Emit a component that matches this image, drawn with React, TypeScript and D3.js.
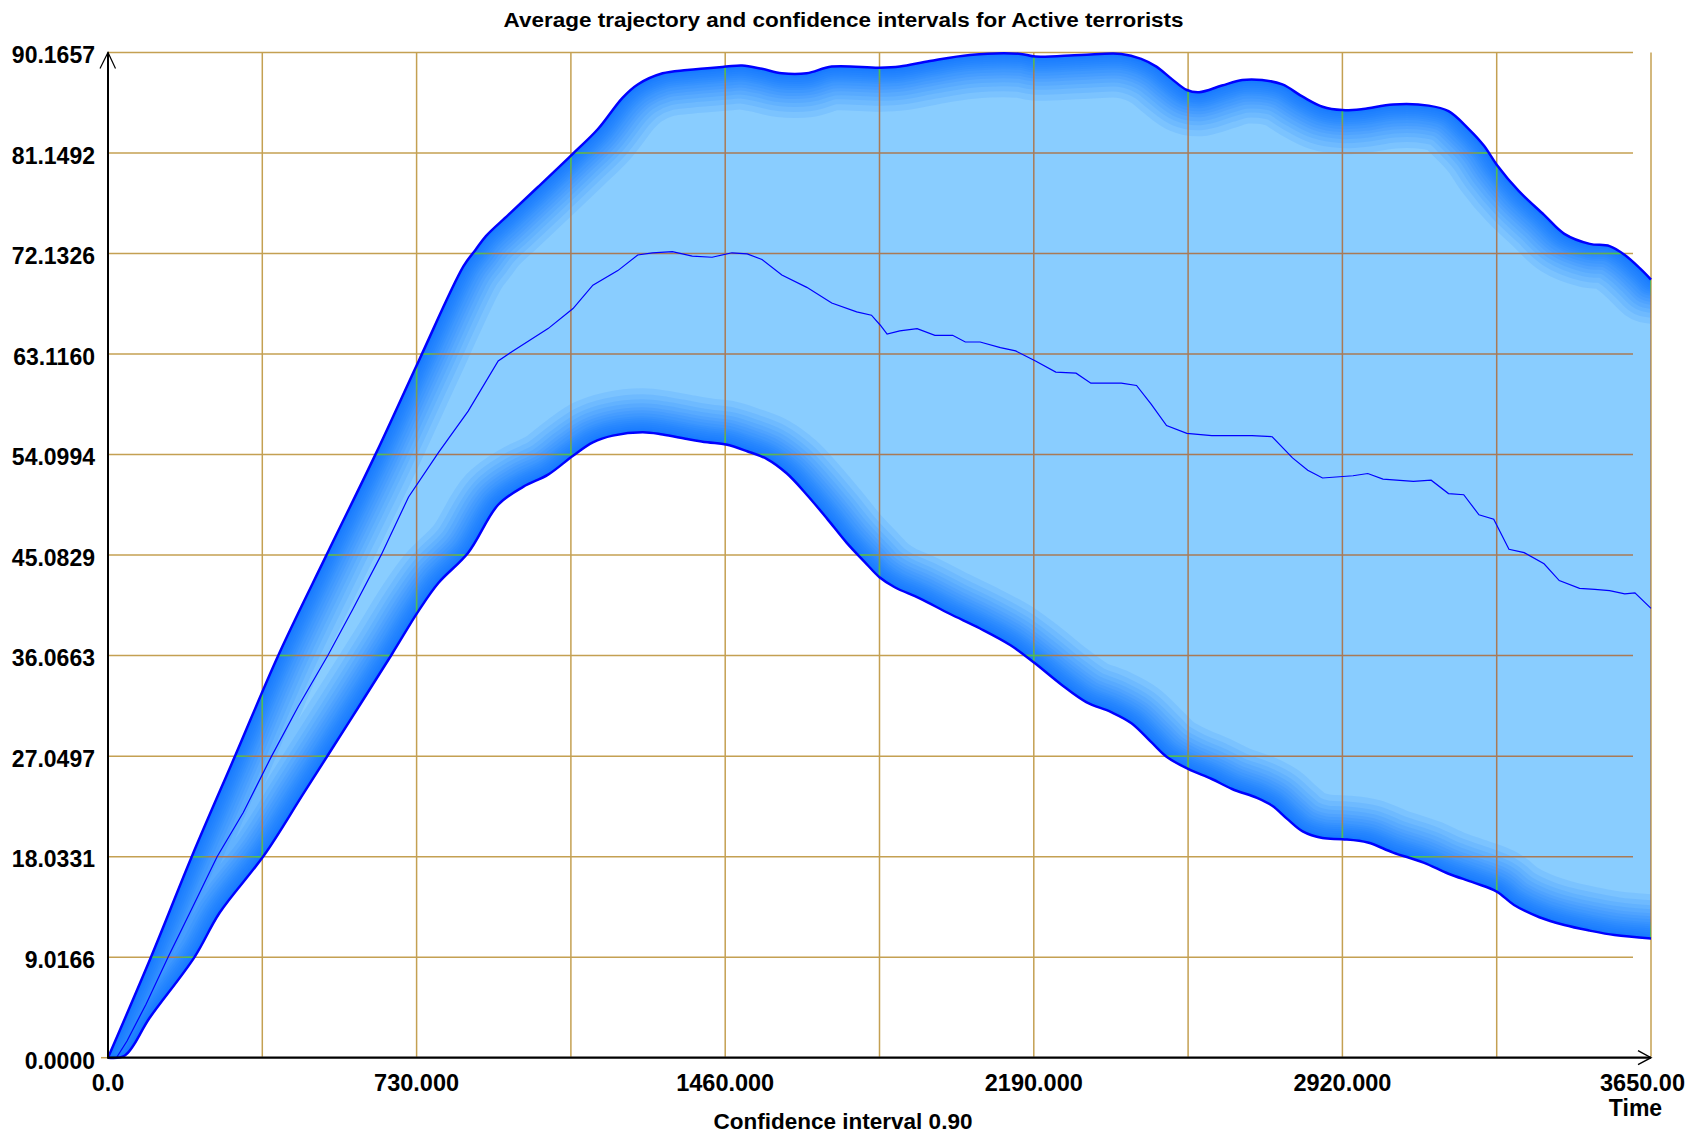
import React from "react";
import * as d3 from "d3";

// ---- tick labels ----
const timeTicks = [0, 730, 1460, 2190, 2920, 3650];
const timeTickLabels = ["0.0", "730.000", "1460.000", "2190.000", "2920.000", "3650.00"];
const timeGrid = [365, 730, 1095, 1460, 1825, 2190, 2555, 2920, 3285, 3650];
const valueTicks = [0, 9.0166, 18.0331, 27.0497, 36.0663, 45.0829, 54.0994, 63.116, 72.1326, 81.1492, 90.1657];
const valueTickLabels = ["0.0000", "9.0166", "18.0331", "27.0497", "36.0663", "45.0829", "54.0994", "63.1160", "72.1326", "81.1492", "90.1657"];

// ---- upper confidence bound ----
const upperTime = [0, 102, 200, 301, 403, 517, 635, 735, 841, 870, 894, 947, 1017, 1100, 1159, 1217, 1253, 1312, 1370, 1462, 1500, 1547, 1594, 1653, 1712, 1825, 1873, 1944, 2039, 2159, 2194, 2302, 2397, 2444, 2480, 2516, 2552, 2581, 2635, 2683, 2730, 2778, 2826, 2873, 2920, 2969, 3040, 3124, 3171, 3219, 3255, 3285, 3337, 3397, 3445, 3505, 3552, 3588, 3624, 3650];
const upperValue = [0, 9.05, 18.2, 27.1, 36.1, 45.1, 54.3, 62.5, 71.0, 72.5, 73.7, 75.6, 78.1, 81.1, 83.3, 86.1, 87.3, 88.3, 88.6, 88.9, 89.0, 88.7, 88.3, 88.3, 88.9, 88.8, 88.9, 89.4, 89.95, 90.04, 89.8, 89.95, 90.04, 89.6, 88.9, 87.8, 86.8, 86.6, 87.2, 87.7, 87.7, 87.3, 86.2, 85.3, 85.0, 85.1, 85.5, 85.4, 84.9, 83.3, 81.8, 80.1, 77.75, 75.6, 73.9, 73.0, 72.8, 72.0, 70.8, 69.8];

// ---- lower confidence bound ----
const lowerTime = [0, 40, 99, 205, 264, 370, 464, 570, 670, 735, 782, 852, 923, 982, 1041, 1100, 1147, 1194, 1265, 1312, 1370, 1418, 1462, 1512, 1559, 1606, 1653, 1700, 1747, 1794, 1825, 1861, 1920, 1992, 2063, 2135, 2192, 2254, 2314, 2373, 2421, 2468, 2504, 2555, 2611, 2659, 2718, 2754, 2790, 2826, 2873, 2920, 2980, 3040, 3112, 3171, 3231, 3285, 3326, 3386, 3445, 3505, 3564, 3650];
const lowerValue = [0, 0.2, 3.6, 9.05, 13.0, 18.2, 23.8, 30.1, 36.1, 40.1, 42.6, 45.3, 49.6, 51.2, 52.3, 54.0, 55.2, 55.8, 56.1, 55.9, 55.5, 55.2, 55.0, 54.4, 53.7, 52.4, 50.5, 48.4, 46.2, 44.3, 43.1, 42.2, 41.2, 39.8, 38.5, 37.0, 35.4, 33.5, 31.9, 31.0, 30.0, 28.3, 27.0, 25.9, 25.0, 24.1, 23.3, 22.6, 21.4, 20.3, 19.7, 19.6, 19.3, 18.4, 17.5, 16.5, 15.7, 14.9, 13.7, 12.6, 11.9, 11.4, 11.0, 10.7];

// ---- average trajectory ----
const meanTime = [0, 20, 45, 90, 142, 200, 258, 320, 387, 450, 520, 580, 646, 711, 782, 852, 923, 958, 1041, 1100, 1147, 1206, 1253, 1288, 1335, 1382, 1429, 1476, 1512, 1547, 1594, 1653, 1712, 1771, 1806, 1827, 1843, 1873, 1914, 1956, 1998, 2028, 2063, 2111, 2147, 2194, 2242, 2290, 2325, 2397, 2433, 2468, 2504, 2552, 2611, 2706, 2754, 2802, 2838, 2873, 2945, 2980, 3016, 3088, 3130, 3171, 3207, 3243, 3278, 3314, 3350, 3397, 3433, 3481, 3517, 3552, 3588, 3612, 3650];
const meanValue = [0, 0, 1.5, 4.8, 9.02, 13.5, 18.03, 22.0, 27.05, 31.5, 36.07, 40.3, 45.08, 50.3, 54.3, 58.0, 62.5, 63.4, 65.4, 67.2, 69.3, 70.6, 72.0, 72.2, 72.3, 71.9, 71.8, 72.2, 72.1, 71.6, 70.2, 69.1, 67.7, 66.9, 66.6, 65.7, 64.9, 65.2, 65.4, 64.8, 64.8, 64.2, 64.2, 63.7, 63.4, 62.5, 61.5, 61.4, 60.5, 60.5, 60.3, 58.6, 56.7, 56.0, 55.8, 55.8, 55.7, 53.8, 52.7, 52.0, 52.2, 52.4, 51.9, 51.7, 51.8, 50.6, 50.5, 48.7, 48.3, 45.6, 45.3, 44.3, 42.8, 42.1, 42.0, 41.9, 41.6, 41.7, 40.3];

const W = 1688;
const H = 1142;
const FONT = "'Liberation Sans', Arial, sans-serif";
// half-widths (px) of the edge shading strokes, from outermost to innermost
const SHADE_DEPTHS = [44, 38, 33, 29, 25, 22, 19, 16, 14, 12, 10, 8, 6, 4, 2.5];
const MASK_DEPTHS = [16, 13, 10, 8, 6, 4, 2.5];

export default function App() {
  const x = d3.scaleLinear().domain([0, 3650]).range([108, 1651]);
  const y = d3.scaleLinear().domain([0, 90.1657]).range([1057.7, 52.5]);

  const upperPts: [number, number][] = upperTime.map((t, i) => [x(t), y(upperValue[i])]);
  const lowerPts: [number, number][] = lowerTime.map((t, i) => [x(t), y(lowerValue[i])]);
  const meanPts: [number, number][] = meanTime.map((t, i) => [x(t), y(meanValue[i])]);

  const edgeLine = d3.line().curve(d3.curveCatmullRom.alpha(0.5));
  const upperD = edgeLine(upperPts) as string;
  const lowerD = edgeLine(lowerPts) as string;
  const lowerRevD = edgeLine([...lowerPts].reverse()) as string;
  const bandD = upperD + lowerRevD.replace(/^M/, "L") + "Z";
  const meanD = d3.line()(meanPts) as string;
  const edgesD = upperD + lowerD;

  // shading paths continue a little past the right edge so the stroke end is clipped cleanly
  const lastU = upperPts[upperPts.length - 1];
  const lastL = lowerPts[lowerPts.length - 1];
  const shadeD = upperD + `L${lastU[0] + 80},${lastU[1] + 8}` + lowerD + `L${lastL[0] + 80},${lastL[1]}`;

  const gridTop = y(90.1657);
  const axisY = y(0);
  const gridRight = 1633;

  const gridLines = (stroke: string) => (
    <g stroke={stroke} strokeWidth={1.5} fill="none">
      {valueTicks.slice(1).map((v, i) => (
        <line key={"h" + i} x1={x(0)} x2={gridRight} y1={y(v)} y2={y(v)} />
      ))}
      {timeGrid.map((t, i) => (
        <line key={"v" + i} x1={x(t)} x2={x(t)} y1={gridTop} y2={axisY - 1} />
      ))}
    </g>
  );

  return (
    <svg
      width={W}
      height={H}
      viewBox={`0 0 ${W} ${H}`}
      style={{ position: "absolute", left: 0, top: 0, background: "#fff" }}
      fontFamily={FONT}
    >
      <defs>
        <clipPath id="bandClip">
          <path d={bandD} />
        </clipPath>
        <mask id="darkMask" maskUnits="userSpaceOnUse" x={0} y={0} width={W} height={H}>
          <g clipPath="url(#bandClip)" fill="none" stroke="#fff" strokeLinecap="butt" strokeLinejoin="round">
            {MASK_DEPTHS.map((d) => (
              <path key={d} d={shadeD} strokeWidth={d * 2} strokeOpacity={0.22} />
            ))}
          </g>
        </mask>
      </defs>

      <rect x={0} y={0} width={W} height={H} fill="#fff" />

      {/* grid on white */}
      {gridLines("#C4A052")}
      <line x1={101} x2={x(0)} y1={axisY} y2={axisY} stroke="#C4A052" strokeWidth={1.5} />

      {/* confidence band */}
      <path d={bandD} fill="#89CDFF" />
      <g clipPath="url(#bandClip)" fill="none" stroke="#0070FF" strokeLinecap="butt" strokeLinejoin="round">
        {SHADE_DEPTHS.map((d) => (
          <path key={d} d={shadeD} strokeWidth={d * 2} strokeOpacity={0.1} />
        ))}
      </g>

      {/* grid drawn over band */}
      <g clipPath="url(#bandClip)">{gridLines("#A97A56")}</g>
      <g clipPath="url(#bandClip)" mask="url(#darkMask)">{gridLines("#22DC55")}</g>

      {/* band edges */}
      <path d={edgesD} fill="none" stroke="#0000FF" strokeWidth={2.5} />

      {/* mean trajectory */}
      <path d={meanD} fill="none" stroke="#0000FF" strokeWidth={1.2} />

      {/* axes */}
      <line x1={x(0)} x2={x(0)} y1={gridTop} y2={axisY + 1} stroke="#000" strokeWidth={2} />
      <line x1={x(0)} x2={x(3650)} y1={axisY} y2={axisY} stroke="#000" strokeWidth={2.2} />
      <polyline
        points={`${x(0) - 8},${gridTop + 16} ${x(0)},${gridTop} ${x(0) + 7.5},${gridTop + 16}`}
        fill="none"
        stroke="#000"
        strokeWidth={1.2}
      />
      <polyline
        points={`${x(3650) - 13},${axisY - 7} ${x(3650)},${axisY} ${x(3650) - 13},${axisY + 7}`}
        fill="none"
        stroke="#000"
        strokeWidth={1.4}
      />

      {/* y tick labels */}
      <g fontSize={23} fontWeight="bold" fill="#000" textAnchor="end">
        {valueTicks.map((v, i) => (
          <text key={i} x={95} y={y(v) + 10.8}>
            {valueTickLabels[i]}
          </text>
        ))}
      </g>

      {/* x tick labels */}
      <g fontSize={23.5} fontWeight="bold" fill="#000">
        {timeTicks.map((t, i) => {
          const last = i === timeTicks.length - 1;
          return (
            <text key={i} x={last ? 1685 : x(t)} y={1091} textAnchor={last ? "end" : "middle"}>
              {timeTickLabels[i]}
            </text>
          );
        })}
      </g>

      <text x={1635.5} y={1116} fontSize={23} fontWeight="bold" textAnchor="middle">
        Time
      </text>
      <text x={843} y={1129} fontSize={22.5} fontWeight="bold" textAnchor="middle">
        Confidence interval 0.90
      </text>
      <text
        x={843.6}
        y={27.3}
        fontSize={19.5}
        fontWeight="bold"
        textAnchor="middle"
        textLength={680}
        lengthAdjust="spacingAndGlyphs"
      >
        Average trajectory and confidence intervals for Active terrorists
      </text>
    </svg>
  );
}
